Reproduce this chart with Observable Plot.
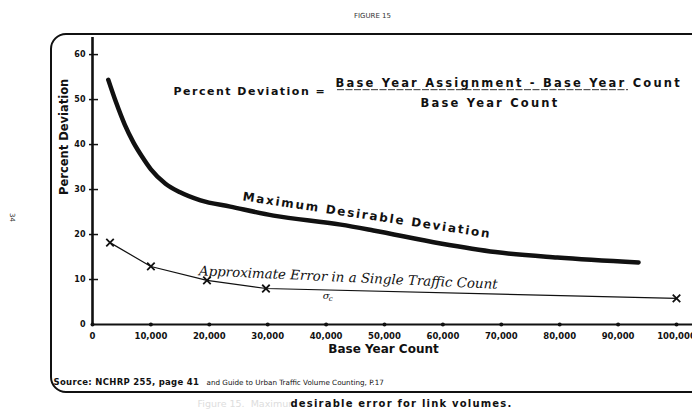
<!DOCTYPE html>
<html>
<head>
<meta charset="utf-8">
<script src="https://cdn.jsdelivr.net/npm/d3@7"></script>
<script src="https://cdn.jsdelivr.net/npm/@observablehq/plot@0.6"></script>
<style>
  html, body { margin: 0; padding: 0; background: #fff; }
  #wrap { position: relative; width: 692px; height: 413px; overflow: hidden; background: #fff; }
  #border { position: absolute; left: 50px; top: 33px; width: 680px; height: 360px;
            border: 2px solid #111; border-left-width: 2.5px; border-radius: 16px; box-sizing: border-box; pointer-events: none; }
</style>
</head>
<body>
<div id="wrap"><div id="border"></div></div>
<script>
// ---- data ----
const xTicks = [0, 10000, 20000, 30000, 40000, 50000, 60000, 70000, 80000, 90000, 100000];
const yTicks = [0, 10, 20, 30, 40, 50, 60];

// Maximum desirable deviation curve
const maxDevCount = [2700, 4000, 5500, 7000, 8500, 10000, 12500, 15000, 18500, 23600, 31000, 42500, 48100, 59600, 69000, 79600, 93500];
const maxDevPct   = [54.4, 49.5, 44.5, 40.5, 37.3, 34.5, 31.3, 29.4, 27.6, 26.2, 24.2, 22.2, 20.9, 18.0, 16.1, 14.9, 13.8];

// Approximate error in a single traffic count (hand-drawn line)
const errCount = [3000, 10000, 19600, 29700, 100000];
const errPct   = [18.2, 12.9, 9.8, 8.0, 5.8];

const maxDev = maxDevCount.map((x, i) => ({x, y: maxDevPct[i]}));
const err = errCount.map((x, i) => ({x, y: errPct[i]}));

const fmt = d3.format(",");
const heavy = "DejaVu Sans";

const chart = Plot.plot({
  width: 692,
  height: 413,
  marginLeft: 92,
  marginRight: 0,
  marginTop: 37,
  marginBottom: 89,
  x: {domain: [0, 102740]},
  y: {domain: [0, 63.8]},
  style: {fontFamily: heavy, background: "transparent", color: "#111"},
  marks: [
    // axes lines
    Plot.ruleX([0], {stroke: "#111", strokeWidth: 2.6}),
    Plot.ruleY([0], {stroke: "#111", strokeWidth: 2}),
    Plot.axisX({ticks: xTicks, tickSize: 0, tickPadding: 8, tickFormat: fmt,
                fontWeight: "bold", fontSize: 8.5, label: null}),
    Plot.axisY({ticks: yTicks, tickSize: 0, tickPadding: 7,
                fontWeight: "bold", fontSize: 8, label: null}),
    Plot.dot(xTicks, {x: d => d, y: 0, r: 2, fill: "#111"}),
    Plot.tickY(yTicks.slice(1), {y: d => d, insetLeft: -3, insetRight: 594, stroke: "#111", strokeWidth: 1.5}),

    // curves
    Plot.line(maxDev, {x: "x", y: "y", curve: "monotone-x", stroke: "#111", strokeWidth: 4.5}),
    Plot.line(err, {x: "x", y: "y", stroke: "#111", strokeWidth: 1.2}),
    Plot.dot(err, {x: "x", y: "y", symbol: "times", r: 3.5, stroke: "#111", strokeWidth: 1.8}),

    // curve labels
    Plot.text(["Maximum Desirable Deviation"], {x: 47000, y: 23.6, rotate: 8.6, fontWeight: "bold",
      fontSize: 12, fill: "#111", dy: -3}),
    Plot.text(["Approximate Error in a Single Traffic Count"], {x: 43800, y: 10.4, rotate: 2.6,
      fontSize: 13.4, fontStyle: "italic", fontFamily: "DejaVu Serif", fill: "#111"}),
    Plot.text(["σ"], {x: 40000, y: 6.4, fontSize: 10, fontStyle: "italic", fontFamily: "DejaVu Serif", fill: "#111"}),
    Plot.text(["c"], {x: 40800, y: 5.7, fontSize: 7, fontStyle: "italic", fontFamily: "DejaVu Serif", fill: "#111"}),

    // formula
    Plot.text(["Percent Deviation ="], {frameAnchor: "top-left", dx: 81, dy: 50, textAnchor: "start",
      fontWeight: "bold", fontSize: 11, fill: "#111"}),
    Plot.text(["Base Year Assignment - Base Year Count"], {frameAnchor: "top-left", dx: 243, dy: 41,
      textAnchor: "start", fontWeight: "bold", fontSize: 11.5, fill: "#111"}),
    Plot.text(["Base Year Count"], {frameAnchor: "top-left", dx: 328, dy: 61,
      textAnchor: "start", fontWeight: "bold", fontSize: 11.5, fill: "#111"}),
    Plot.ruleY([52.2], {x1: 41950, x2: 91780, stroke: "#333", strokeWidth: 1, strokeDasharray: "7,1.5"}),

    // axis titles
    Plot.text(["Base Year Count"], {frameAnchor: "bottom", dx: -9, dy: 28, fontWeight: "bold", fontSize: 12, fill: "#111"}),
    Plot.text(["Percent Deviation"], {frameAnchor: "left", dx: -28, dy: 14, rotate: -90, fontWeight: "bold", fontSize: 11.5, fill: "#111"}),

    // title, source, caption, page number
    Plot.text(["FIGURE 15"], {frameAnchor: "top", dx: -20, dy: -24, fontSize: 7, fill: "#333"}),
    Plot.text(["Source: NCHRP 255, page 41"], {frameAnchor: "bottom-left", dx: -39, dy: 60, textAnchor: "start",
      fontWeight: "bold", fontSize: 8.5, fill: "#111"}),
    Plot.text(["and Guide to Urban Traffic Volume Counting, P.17"], {frameAnchor: "bottom-left", dx: 114, dy: 60,
      textAnchor: "start", fontSize: 7.2, fill: "#111"}),
    Plot.text(["Figure 15.  Maximum"], {frameAnchor: "bottom-left", dx: 105, dy: 82, textAnchor: "start",
      fontSize: 9.5, fill: "#ddd"}),
    Plot.text(["desirable error for link volumes."], {frameAnchor: "bottom-left", dx: 198, dy: 82, textAnchor: "start",
      fontWeight: "bold", fontSize: 10, fill: "#111"}),
    Plot.text(["34"], {frameAnchor: "left", dx: -80, dy: 32, rotate: 90, fontSize: 7, fill: "#333"})
  ]
});

// letter spacing for the wide-set lettering of the original
const spacing = {
  "Maximum Desirable Deviation": 1.8,
  "Percent Deviation =": 1.5,
  "Base Year Assignment - Base Year Count": 2.2,
  "desirable error for link volumes.": 1.2,
  "Source: NCHRP 255, page 41": 0.3
};
d3.select(chart).selectAll("text").each(function () {
  const s = spacing[this.textContent];
  if (s != null) this.setAttribute("letter-spacing", s);
});
// the denominator of the formula (first "Base Year Count" text) uses the numerator's spacing
const byc = d3.select(chart).selectAll("text").filter(function () { return this.textContent === "Base Year Count"; }).nodes();
if (byc.length) byc[0].setAttribute("letter-spacing", 2.2);

document.getElementById("wrap").prepend(chart);
</script>
</body>
</html>
